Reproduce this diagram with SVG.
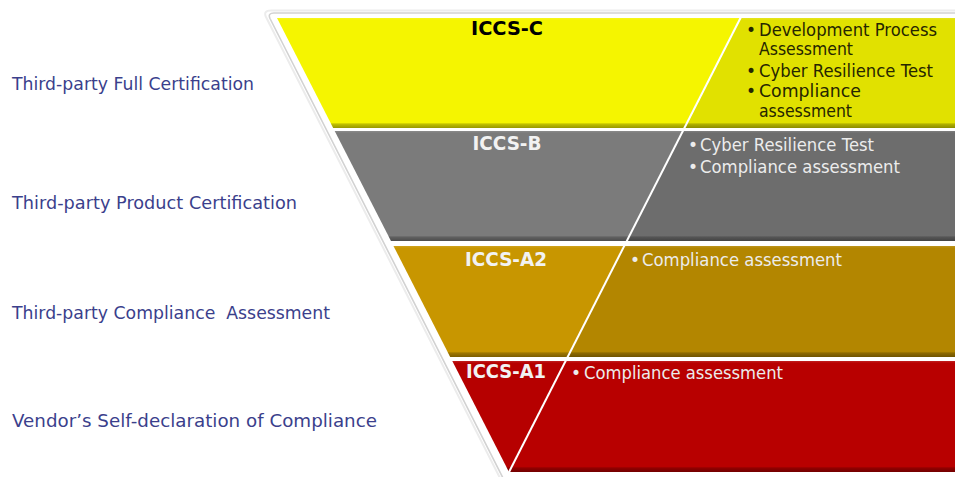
<svg xmlns="http://www.w3.org/2000/svg" width="955" height="477" viewBox="0 0 955 477">
  <defs>
    <linearGradient id="bevel" x1="0" y1="0" x2="0" y2="1">
      <stop offset="0" stop-color="#ffffff" stop-opacity="0.12"/>
      <stop offset="0.02" stop-color="#ffffff" stop-opacity="0"/>
      <stop offset="0.95" stop-color="#000000" stop-opacity="0"/>
      <stop offset="0.965" stop-color="#000000" stop-opacity="0.22"/>
      <stop offset="1" stop-color="#000000" stop-opacity="0.38"/>
    </linearGradient>
    <style>
      .lbl { font-family: "DejaVu Sans", "Liberation Sans", sans-serif; font-size: 17.5px; fill: #3b3f8c; }
      .ttl { font-family: "DejaVu Sans", "Liberation Sans", sans-serif; font-size: 19px; font-weight: bold; text-anchor: middle; }
      .blt { font-family: "DejaVu Sans", "Liberation Sans", sans-serif; font-size: 17px; }
      .dark { fill: #262600; }
      .light { fill: #ececec; }
      .titleLight { fill: #f2f2f2; }
      .bev { fill: url(#bevel); }
    </style>
  </defs>
  <rect width="955" height="477" fill="#ffffff"/>

  <!-- outer frame -->
  <g id="frame" fill="none">
    <path d="M955,10.5 L271,10.5 Q263,10.5 266,17 L502,482" stroke="#ececec" stroke-width="2"/>
    <path d="M955,13 L274,13 Q267.5,13 270,18.5 L505,482" stroke="#d2d2d2" stroke-width="1.6"/>
  </g>

  <!-- ICCS-C -->
  <g id="layer-c">
    <polygon points="277,18 741,18 684.8,128 333.2,128" fill="#f5f500"/>
    <polygon points="741,18 955,18 955,128 684.8,128" fill="#e1e100"/>
    <polygon class="bev" points="277,18 955,18 955,128 333.2,128"/>
    <text class="ttl" x="507" y="35" fill="#000000" textLength="72" lengthAdjust="spacingAndGlyphs">ICCS-C</text>
    <text class="blt dark" x="746" y="36">•</text>
    <text class="blt dark" x="759" y="36" textLength="178" lengthAdjust="spacingAndGlyphs">Development Process</text>
    <text class="blt dark" x="759" y="55" textLength="94" lengthAdjust="spacingAndGlyphs">Assessment</text>
    <text class="blt dark" x="746" y="77">•</text>
    <text class="blt dark" x="759" y="77" textLength="174" lengthAdjust="spacingAndGlyphs">Cyber Resilience Test</text>
    <text class="blt dark" x="746" y="97">•</text>
    <text class="blt dark" x="759" y="97" textLength="102" lengthAdjust="spacingAndGlyphs">Compliance</text>
    <text class="blt dark" x="759" y="117" textLength="93" lengthAdjust="spacingAndGlyphs">assessment</text>
  </g>

  <!-- ICCS-B -->
  <g id="layer-b">
    <polygon points="334.7,131 683.3,131 627,241 391,241" fill="#7b7b7b"/>
    <polygon points="683.3,131 955,131 955,241 627,241" fill="#6d6d6d"/>
    <polygon class="bev" points="334.7,131 955,131 955,241 391,241"/>
    <text class="ttl titleLight" x="507" y="150" textLength="69" lengthAdjust="spacingAndGlyphs">ICCS-B</text>
    <text class="blt light" x="688" y="151">•</text>
    <text class="blt light" x="700" y="151" textLength="174" lengthAdjust="spacingAndGlyphs">Cyber Resilience Test</text>
    <text class="blt light" x="688" y="173">•</text>
    <text class="blt light" x="700" y="173" textLength="200" lengthAdjust="spacingAndGlyphs">Compliance assessment</text>
  </g>

  <!-- ICCS-A2 -->
  <g id="layer-a2">
    <polygon points="393.5,246 624.5,246 567.8,357 450.2,357" fill="#c89600"/>
    <polygon points="624.5,246 955,246 955,357 567.8,357" fill="#b38600"/>
    <polygon class="bev" points="393.5,246 955,246 955,357 450.2,357"/>
    <text class="ttl titleLight" x="506" y="266" textLength="82" lengthAdjust="spacingAndGlyphs">ICCS-A2</text>
    <text class="blt light" x="630" y="266">•</text>
    <text class="blt light" x="642" y="266" textLength="200" lengthAdjust="spacingAndGlyphs">Compliance assessment</text>
  </g>

  <!-- ICCS-A1 -->
  <g id="layer-a1">
    <polygon points="452.3,361 565.7,361 509,472" fill="#b60000"/>
    <polygon points="565.7,361 955,361 955,472 509,472" fill="#b80000"/>
    <polygon class="bev" points="452.3,361 955,361 955,472 509,472"/>
    <text class="ttl titleLight" x="506" y="378" textLength="80" lengthAdjust="spacingAndGlyphs">ICCS-A1</text>
    <text class="blt light" x="571" y="379">•</text>
    <text class="blt light" x="584" y="379" textLength="199" lengthAdjust="spacingAndGlyphs">Compliance assessment</text>
  </g>

  <!-- diagonal divider -->
  <g id="connectors">
    <line x1="742" y1="15" x2="508" y2="474" stroke="#ffffff" stroke-width="2"/>
  </g>

  <!-- left labels -->
  <g id="label-full">
    <text class="lbl" x="12" y="90" textLength="242" lengthAdjust="spacingAndGlyphs">Third-party Full Certification</text>
  </g>
  <g id="label-product">
    <text class="lbl" x="12" y="209" textLength="285" lengthAdjust="spacingAndGlyphs">Third-party Product Certification</text>
  </g>
  <g id="label-compliance">
    <text class="lbl" x="12" y="319" textLength="318" lengthAdjust="spacingAndGlyphs" style="white-space:pre">Third-party Compliance  Assessment</text>
  </g>
  <g id="label-vendor">
    <text class="lbl" x="12" y="427" textLength="365" lengthAdjust="spacingAndGlyphs">Vendor’s Self-declaration of Compliance</text>
  </g>
</svg>
